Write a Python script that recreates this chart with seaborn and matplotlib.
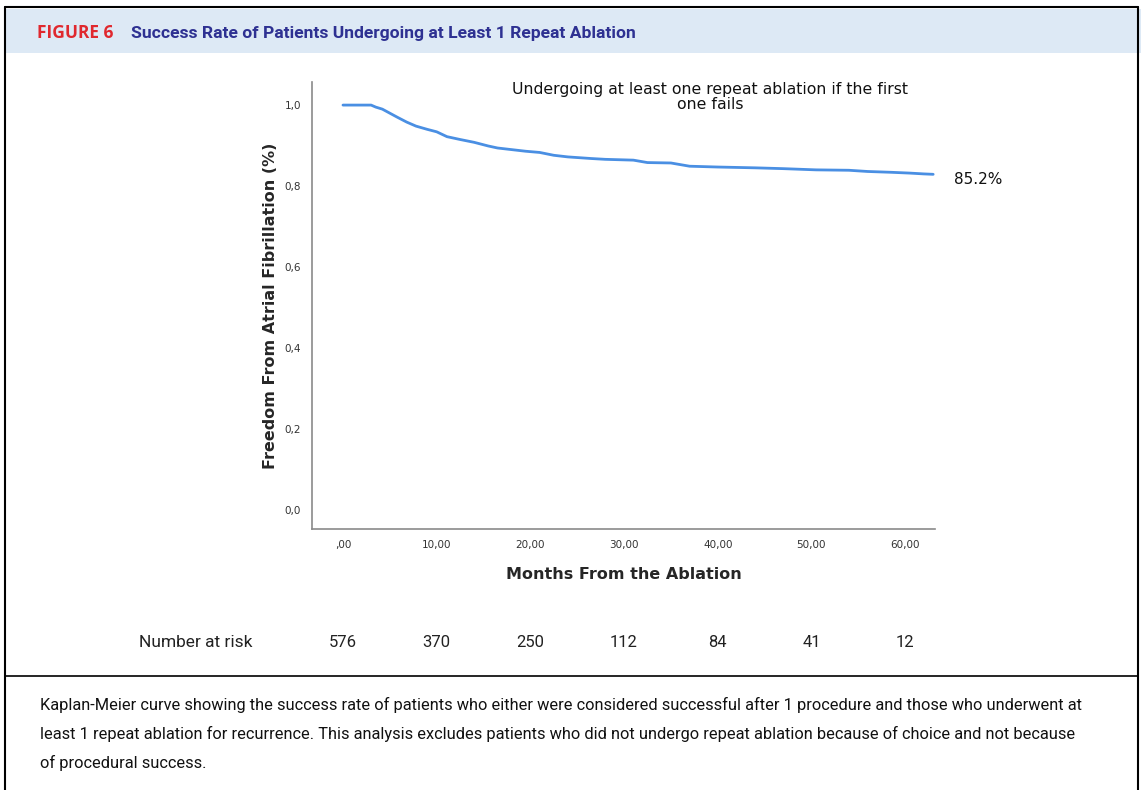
import numpy as np
import pandas as pd
import matplotlib
matplotlib.use("Agg")
import matplotlib.pyplot as plt
import matplotlib.transforms as mtransforms
from matplotlib.patches import Rectangle
from matplotlib.lines import Line2D
import seaborn as sns

# Kaplan-Meier curve
months = [0, 3.0, 3.5, 4.2, 5.0, 5.8, 6.8, 7.8, 9.0, 10.0, 11.1, 12.5, 14.0, 15.5,
          16.5, 18.0, 19.5, 21.0, 22.5, 24.0, 26.5, 28.0, 31.0, 32.5, 35.0, 37.0,
          40.0, 44.0, 47.0, 50.5, 54.0, 56.0, 58.5, 60.5, 62.0, 63.0]
survival = [1.0, 1.0, 0.995, 0.99, 0.98, 0.97, 0.958, 0.948, 0.94, 0.934, 0.922,
            0.915, 0.908, 0.899, 0.894, 0.89, 0.886, 0.883, 0.876, 0.872, 0.868,
            0.866, 0.864, 0.858, 0.857, 0.849, 0.847, 0.845, 0.843, 0.840, 0.839,
            0.836, 0.834, 0.832, 0.830, 0.829]

x_ticks = [0, 10, 20, 30, 40, 50, 60]
x_tick_labels = [",00", "10,00", "20,00", "30,00", "40,00", "50,00", "60,00"]
y_ticks = [0.0, 0.2, 0.4, 0.6, 0.8, 1.0]
y_tick_labels = ["0,0", "0,2", "0,4", "0,6", "0,8", "1,0"]
at_risk = [576, 370, 250, 112, 84, 41, 12]
final_label = "85.2%"

df = pd.DataFrame({"month": months, "surv": survival})

sns.set_style("white")
plt.rcParams["font.family"] = ["DejaVu Sans"]

fig = plt.figure(figsize=(11.41, 7.9), dpi=100)

# frame and header band
fig.add_artist(Rectangle((0.004, 0.933), 0.996, 0.056, transform=fig.transFigure,
                         facecolor="#dde9f5", edgecolor="none"))
fig.add_artist(Line2D([0.004, 0.004], [0.0, 0.991], transform=fig.transFigure, color="black", lw=1.5))
fig.add_artist(Line2D([0.997, 0.997], [0.0, 0.991], transform=fig.transFigure, color="black", lw=1.5))
fig.add_artist(Line2D([0.004, 0.997], [0.991, 0.991], transform=fig.transFigure, color="black", lw=1.5))
fig.add_artist(Line2D([0.004, 0.997], [0.144, 0.144], transform=fig.transFigure, color="black", lw=1.2))

fig.text(0.032, 0.958, "FIGURE 6", color="#e0282e", fontsize=12.5, fontweight="bold",
         family=["Open Sans", "DejaVu Sans"], va="center")
fig.text(0.115, 0.958, "Success Rate of Patients Undergoing at Least 1 Repeat Ablation",
         color="#2e3192", fontsize=12.6, fontweight="bold", family=["Roboto", "DejaVu Sans"],
         va="center")

ax = fig.add_axes([0.2735, 0.3304, 0.546, 0.5658])
sns.lineplot(data=df, x="month", y="surv", ax=ax, color="#4a8fe3", lw=2.0)
ax.set_xlim(-3.3, 63.2)
ax.set_ylim(-0.047, 1.057)
ax.set_xticks(x_ticks)
ax.set_xticklabels(x_tick_labels)
ax.set_yticks(y_ticks)
ax.set_yticklabels(y_tick_labels)
ax.tick_params(axis="both", length=0, labelsize=7.5, colors="#333333", pad=8)
for s in ["top", "right"]:
    ax.spines[s].set_visible(False)
for s in ["left", "bottom"]:
    ax.spines[s].set_color("#8a8a8a")
    ax.spines[s].set_linewidth(1.2)
ax.set_xlabel("Months From the Ablation", fontsize=11.5, fontweight="bold", labelpad=12)
ax.set_ylabel("Freedom From Atrial Fibrillation (%)", fontsize=11.5, fontweight="bold", labelpad=5)

ax.text(39.2, 1.02, "Undergoing at least one repeat ablation if the first\none fails",
        ha="center", va="center", multialignment="center", fontsize=11.3, color="#111111",
        linespacing=0.95)
ax.text(months[-1] + 2.2, survival[-1] - 0.013, final_label, ha="left", va="center",
        fontsize=11, color="#111111")

# number at risk row
trans = mtransforms.blended_transform_factory(ax.transData, fig.transFigure)
fig.text(0.122, 0.187, "Number at risk", fontsize=12.5, family=["Roboto", "DejaVu Sans"],
         color="#222222", va="center")
for xt, n in zip(x_ticks, at_risk):
    ax.text(xt, 0.187, str(n), transform=trans, ha="center", va="center",
            fontsize=12, family=["Roboto", "DejaVu Sans"], color="#222222")

caption = ("Kaplan-Meier curve showing the success rate of patients who either were considered successful after 1 procedure and those who underwent at\n"
           "least 1 repeat ablation for recurrence. This analysis excludes patients who did not undergo repeat ablation because of choice and not because\n"
           "of procedural success.")
fig.text(0.035, 0.118, caption, fontsize=11.8, family=["Roboto", "DejaVu Sans"],
         color="#111111", va="top", linespacing=2.0)

fig.savefig("out.png", dpi=100)
